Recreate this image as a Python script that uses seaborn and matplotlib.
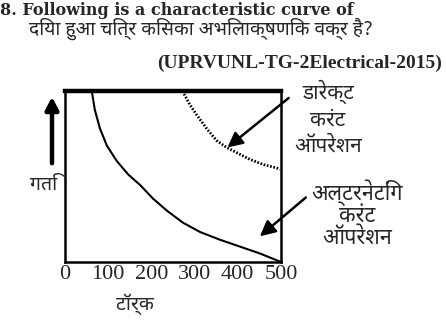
import matplotlib
matplotlib.use("Agg")
import matplotlib.pyplot as plt
import seaborn as sns
import pandas as pd

# ---- data ----
ac_torque = [62, 69, 81, 97, 120, 147, 174, 204, 236, 273, 313, 359, 405, 451, 500]
ac_speed = [100, 89, 78, 68, 59, 51, 45, 37, 30, 23, 17.5, 13, 9, 5, 0]
dc_torque = [272, 289, 305, 328, 351, 374, 397, 428, 459, 490, 497]
dc_speed = [100, 92, 86, 78, 71, 67, 64, 60, 57, 55, 54]
tick_values = [0, 100, 200, 300, 400, 500]
tick_labels = ["0", "100", "200", "300", "400", "500"]

title_en = "8. Following is a characteristic curve of"
title_hi = "दिया हुआ चित्र किसका अभिलाक्षणिक वक्र है?"
source = "(UPRVUNL-TG-2Electrical-2015)"
ylabel_hi = "गति"
xlabel_hi = "टॉर्क"
dc_label = "डारेक्ट\nकरंट\nऑपरेशन"
ac_label = "अल्टरनेटिंग\nकरंट\nऑपरेशन"

sns.set_theme(style="white")
hi_fonts = ["Noto Sans Devanagari", "Mukta", "Ek Mukta", "DejaVu Sans"]
serif = ["Liberation Serif", "DejaVu Serif"]
wide_serif = ["DejaVu Serif", "Liberation Serif"]

W, H = 446, 323
fig = plt.figure(figsize=(W / 100, H / 100), dpi=100)
ax = fig.add_axes([65 / W, (H - 262) / H, 216 / W, 171 / H])

ac = pd.DataFrame({"torque": ac_torque, "speed": ac_speed})
dc = pd.DataFrame({"torque": dc_torque, "speed": dc_speed})
sns.lineplot(data=ac, x="torque", y="speed", ax=ax, color="black", lw=1.5, sort=False)
sns.lineplot(data=dc, x="torque", y="speed", ax=ax, color="black", lw=2.0,
             linestyle=(0, (0.6, 0.6)), sort=False)

ax.set_xlim(0, 500)
ax.set_ylim(0, 100)
ax.set_xticks(tick_values)
ax.set_xticklabels(tick_labels, fontsize=16, family=serif)
ax.set_yticks([])
ax.tick_params(axis="x", length=0, pad=2)
ax.set_xlabel("")
ax.set_ylabel("")
for s in ["left", "bottom", "right"]:
    ax.spines[s].set_linewidth(1.8)
    ax.spines[s].set_color("black")
ax.spines["top"].set_linewidth(3.2)
ax.spines["top"].set_color("black")

# header text
fig.text(0.0, 1 - 2 / H, title_en, fontsize=11.5, fontweight="bold", family=wide_serif,
         va="top", ha="left")
fig.text(29 / W, 1 - 29 / H, title_hi, fontsize=13.8, family=hi_fonts, va="center", ha="left")
fig.text(442 / W, 1 - 63 / H, source, fontsize=14, fontweight="bold", family=serif, va="center", ha="right")

# y label and arrow
fig.text(44 / W, 1 - 185 / H, ylabel_hi, fontsize=14, family=hi_fonts, va="center", ha="center")
fig.add_artist(matplotlib.patches.FancyArrowPatch(
    (52 / W, 1 - 166 / H), (52 / W, 1 - 94 / H), transform=fig.transFigure,
    arrowstyle="-|>,head_length=5,head_width=2.6", lw=3.2, color="black", mutation_scale=1.5))
fig.text(135 / W, 1 - 304 / H, xlabel_hi, fontsize=14, family=hi_fonts, va="center", ha="center")

# annotations
ax.annotate(dc_label, xy=(376, 67), xytext=(328 / W, 1 - 118 / H), textcoords="figure fraction",
            fontsize=15, family=hi_fonts, ha="center", va="center", linespacing=1.35,
            arrowprops=dict(arrowstyle="-|>,head_length=0.6,head_width=0.3", lw=1.8, color="black",
                            relpos=(0.05, 0.85), shrinkA=2, shrinkB=0))
ax.annotate(ac_label, xy=(451, 15), xytext=(357 / W, 1 - 214 / H), textcoords="figure fraction",
            fontsize=15.5, family=hi_fonts, ha="center", va="center", linespacing=1.05,
            arrowprops=dict(arrowstyle="-|>,head_length=0.6,head_width=0.3", lw=1.8, color="black",
                            relpos=(0.0, 0.8), shrinkA=2, shrinkB=0))

fig.savefig("out.png", dpi=100)
